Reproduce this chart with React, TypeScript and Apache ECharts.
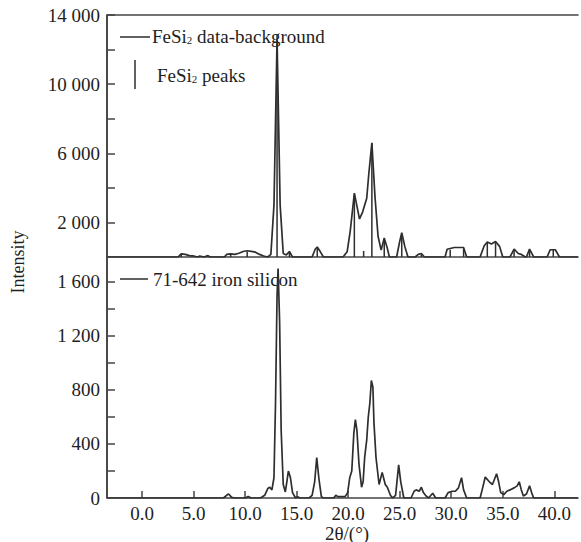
import React, { useEffect, useRef } from "react";
import * as echarts from "echarts";

// FeSi2 data-background (2θ, intensity)
const topLine: [number, number][] = [
  [-3.4, 0], [3.5, 0], [3.8, 180], [4.2, 150], [4.6, 80], [5.0, 60], [5.4, 0], [5.6, 60], [6.0, 0], [6.4, 80], [6.6, 0],
  [8.0, 0], [8.2, 150], [8.6, 180], [9.0, 150], [9.4, 220], [9.8, 320], [10.2, 360], [10.6, 330], [11.0, 280], [11.4, 150], [11.8, 60], [12.2, 0],
  [12.5, 150], [12.8, 3000], [13.1, 12600], [13.4, 3000], [13.7, 200], [14.0, 120], [14.3, 320], [14.6, 0],
  [16.5, 0], [16.8, 450], [17.0, 580], [17.3, 300], [17.6, 0],
  [19.5, 0], [19.9, 300], [20.2, 1500], [20.6, 3700], [20.9, 2800], [21.1, 2200], [21.4, 2600], [21.8, 3400], [22.0, 4800], [22.3, 6600],
  [22.6, 3500], [22.9, 1200], [23.2, 400], [23.5, 1100], [23.8, 500], [24.0, 0],
  [24.7, 0], [25.0, 900], [25.2, 1400], [25.5, 600], [25.8, 0],
  [26.5, 0], [26.8, 150], [27.1, 200], [27.4, 0],
  [29.4, 0], [29.6, 450], [30.3, 550], [31.2, 550], [31.5, 0],
  [32.8, 0], [33.2, 650], [33.5, 870], [33.9, 750], [34.3, 900], [34.7, 600], [35.0, 0],
  [35.7, 0], [36.1, 460], [36.5, 200], [36.8, 150], [37.2, 0], [37.3, 0], [37.6, 460], [38.0, 0],
  [39.3, 0], [39.6, 420], [40.1, 420], [40.5, 0], [42.3, 0],
];

// FeSi2 peaks (stick positions and heights)
const peakPos = [3.8, 8.6, 10.2, 13.1, 14.3, 17.0, 20.6, 21.5, 22.3, 23.5, 25.2, 27.1, 29.9, 31.2, 33.5, 34.3, 36.1, 37.6, 39.9];
const peakHeight = [150, 150, 300, 12900, 280, 500, 3600, 350, 6600, 950, 1350, 160, 420, 480, 820, 850, 420, 420, 450];

// 71-642 iron silicon reference pattern
const bottomLine: [number, number][] = [
  [-3.4, 0], [7.9, 0], [8.2, 20], [8.4, 30], [8.7, 5], [9.0, 0], [10.0, 0], [10.3, 10], [10.6, 0], [11.5, 0], [11.9, 20],
  [12.2, 70], [12.4, 80], [12.6, 60], [12.8, 150], [12.95, 700], [13.1, 1500], [13.2, 1700], [13.35, 1300], [13.5, 500], [13.7, 100],
  [13.9, 45], [14.05, 120], [14.2, 200], [14.4, 150], [14.6, 40], [14.9, 0], [15.1, 10], [15.3, 0],
  [16.2, 0], [16.5, 20], [16.75, 120], [16.95, 300], [17.15, 150], [17.4, 10], [17.6, 0],
  [18.6, 0], [18.8, 20], [19.0, 10], [19.7, 10], [19.95, 40], [20.15, 150], [20.35, 200], [20.55, 480], [20.7, 580], [20.85, 500],
  [21.05, 250], [21.3, 80], [21.45, 120], [21.6, 300], [21.8, 430], [21.95, 600], [22.1, 700], [22.25, 870], [22.4, 820], [22.5, 560],
  [22.7, 300], [23.0, 100], [23.3, 190], [23.6, 100], [23.8, 80], [24.1, 20], [24.3, 0], [24.6, 20], [24.9, 245], [25.1, 120], [25.4, 0],
  [26.1, 0], [26.4, 50], [26.6, 60], [26.9, 50], [27.1, 80], [27.3, 40], [27.5, 20], [27.8, 0], [28.2, 35], [28.5, 0],
  [29.4, 0], [29.7, 40], [30.1, 50], [30.4, 50], [30.7, 75], [31.0, 150], [31.2, 60], [31.5, 0],
  [32.8, 0], [33.0, 60], [33.3, 155], [33.7, 120], [34.0, 100], [34.4, 180], [34.6, 120], [34.8, 40], [35.1, 25], [35.4, 50],
  [35.7, 60], [36.1, 75], [36.4, 90], [36.6, 120], [36.8, 60], [37.0, 15], [37.3, 30], [37.6, 90], [37.8, 40], [38.0, 0], [42.3, 0],
];

const xTicks = [0, 5, 10, 15, 20, 25, 30, 35, 40];
const topYLabels = [2000, 6000, 10000, 14000];
const topYTicks = [2000, 4000, 6000, 8000, 10000, 12000, 14000];
const bottomYLabels = [0, 400, 800, 1200, 1600];
const bottomYTicks = [200, 400, 600, 800, 1000, 1200, 1400, 1600];

const FONT = "'Liberation Serif', 'DejaVu Serif', serif";
const AX = "#444444";
const LINE = "#2e2e2e";

const fmt = (v: number) => {
  if (v >= 1000) {
    return `${Math.floor(v / 1000)} ${String(v % 1000).padStart(3, "0")}`;
  }
  return String(v);
};

export default function App() {
  const ref = useRef<HTMLDivElement>(null);
  useEffect(() => {
    if (!ref.current) return;
    const chart = echarts.init(ref.current, null, { renderer: "svg" });
    const mkLine = () => ({ show: true, onZero: false, lineStyle: { color: AX, width: 1.6 } });
    const labelStyle = { color: "#1e1e1e", fontFamily: FONT, fontSize: 19 };
    chart.setOption({
      animation: false,
      backgroundColor: "#ffffff",
      grid: [
        { left: 107, right: 3, top: 15, height: 242 },
        { left: 107, right: 3, top: 257, height: 241 },
      ],
      xAxis: [
        {
          type: "value", gridIndex: 0, min: -3.4, max: 42.3,
          axisLine: mkLine(), axisTick: { show: false }, axisLabel: { show: false }, splitLine: { show: false },
        },
        {
          type: "value", gridIndex: 0, position: "top", min: -3.4, max: 42.3,
          axisLine: mkLine(), axisTick: { show: false }, axisLabel: { show: false }, splitLine: { show: false },
        },
        {
          type: "value", gridIndex: 1, min: -3.4, max: 42.3,
          axisLine: mkLine(),
          axisTick: { show: true, inside: true, length: 7, customValues: xTicks, lineStyle: { color: AX, width: 1.5 } },
          axisLabel: { ...labelStyle, margin: 6, customValues: xTicks, formatter: (v: number) => v.toFixed(1) },
          splitLine: { show: false },
        },
      ],
      yAxis: [
        {
          type: "value", gridIndex: 0, min: 0, max: 14000, interval: 2000,
          axisLine: mkLine(),
          axisTick: { show: true, inside: true, length: 8, customValues: topYTicks, lineStyle: { color: AX, width: 1.5 } },
          axisLabel: { ...labelStyle, margin: 7, customValues: topYLabels, formatter: fmt },
          splitLine: { show: false },
        },
        {
          type: "value", gridIndex: 1, min: 0, max: 1785,
          axisLine: mkLine(),
          axisTick: { show: true, inside: true, length: 8, customValues: bottomYTicks, lineStyle: { color: AX, width: 1.5 } },
          axisLabel: { ...labelStyle, margin: 7, customValues: bottomYLabels, formatter: fmt },
          splitLine: { show: false },
        },
      ],
      series: [
        {
          name: "FeSi2 data-background", type: "line", xAxisIndex: 0, yAxisIndex: 0,
          data: topLine, showSymbol: false, lineStyle: { color: LINE, width: 1.7 }, z: 3,
        },
        {
          name: "FeSi2 peaks", type: "bar", xAxisIndex: 0, yAxisIndex: 0,
          data: peakPos.map((p, i) => [p, peakHeight[i]]), barWidth: 1.5,
          itemStyle: { color: LINE }, z: 2,
        },
        {
          name: "71-642 iron silicon", type: "line", xAxisIndex: 2, yAxisIndex: 1,
          data: bottomLine, showSymbol: false, lineStyle: { color: LINE, width: 1.7 },
        },
      ],
      graphic: [
        // left frame line (y-axis spine of both panels)
        { type: "line", z: 10, shape: { x1: 107, y1: 15, x2: 107, y2: 498 }, style: { stroke: AX, lineWidth: 1.6 } },
        { type: "line", shape: { x1: 120, y1: 37, x2: 150, y2: 37 }, style: { stroke: LINE, lineWidth: 1.5 } },
        {
          type: "text", x: 152, y: 36,
          style: {
            text: "FeSi{s|2} data-background", fontFamily: FONT, fontSize: 19, fill: "#1e1e1e",
            verticalAlign: "middle",
            rich: { s: { fontSize: 11, fontFamily: FONT, fill: "#1e1e1e", padding: [7, 0, 0, 0] } },
          },
        },
        { type: "line", shape: { x1: 135, y1: 60, x2: 135, y2: 89 }, style: { stroke: LINE, lineWidth: 1.5 } },
        {
          type: "text", x: 157, y: 75,
          style: {
            text: "FeSi{s|2} peaks", fontFamily: FONT, fontSize: 19, fill: "#1e1e1e",
            verticalAlign: "middle",
            rich: { s: { fontSize: 11, fontFamily: FONT, fill: "#1e1e1e", padding: [7, 0, 0, 0] } },
          },
        },
        { type: "line", shape: { x1: 120, y1: 279, x2: 148, y2: 279 }, style: { stroke: LINE, lineWidth: 1.5 } },
        {
          type: "text", x: 153, y: 279,
          style: { text: "71-642 iron silicon", fontFamily: FONT, fontSize: 19, fill: "#1e1e1e", verticalAlign: "middle" },
        },
        {
          type: "text", x: 18, y: 262, rotation: Math.PI / 2,
          style: { text: "Intensity", fontFamily: FONT, fontSize: 18, fill: "#1e1e1e", align: "center", verticalAlign: "middle" },
        },
        {
          type: "text", x: 347, y: 533,
          style: { text: "2θ/(°)", fontFamily: FONT, fontSize: 19, fill: "#1e1e1e", align: "center", verticalAlign: "middle" },
        },
      ],
    });
    return () => chart.dispose();
  }, []);
  return <div ref={ref} style={{ position: "fixed", left: 0, top: 0, width: 581, height: 542, background: "#fff" }} />;
}
